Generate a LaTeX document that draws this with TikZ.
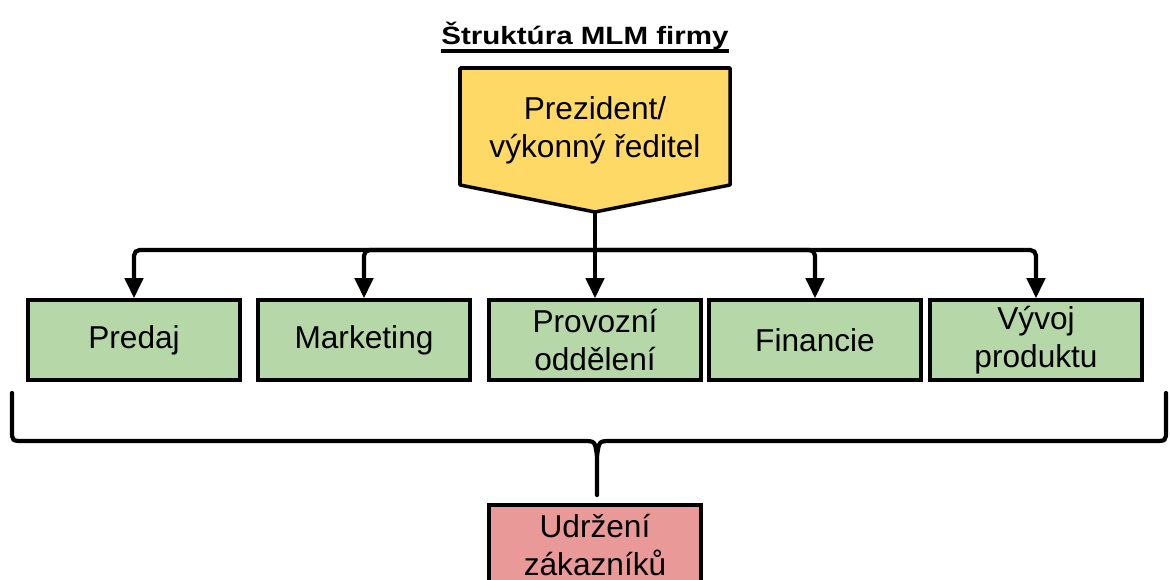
\documentclass[tikz,border=0pt]{standalone}
\usepackage{fontspec}
\setmainfont{Liberation Sans}
\usepackage{graphicx}
\usetikzlibrary{arrows.meta}
\definecolor{presyellow}{HTML}{FFD966}
\definecolor{deptgreen}{HTML}{B6D7A8}
\definecolor{keepred}{HTML}{EA9999}
\tikzset{
  dept/.style={draw, line width=2.5pt, fill=deptgreen, minimum width=5.3cm, minimum height=2cm,
    inner sep=1pt, align=center, font=\fontsize{22.5}{27}\selectfont},
  link/.style={line width=3pt, -{Triangle[width=0.45cm,length=0.5cm]}},
  bus/.style={line width=3pt},
}
\begin{document}
\begin{tikzpicture}[x=0.025cm,y=-0.025cm]
\clip (0,0) rectangle (1170,579);
% title
\node[inner sep=0, anchor=base, font=\bfseries\fontsize{17.8}{20}\selectfont] (title) at (585,44) {\scalebox{1.18}[1]{Štruktúra MLM firmy}};
\draw[line width=3pt] ([yshift=-5pt]title.base west) -- ([yshift=-5pt]title.base east);
% president
\filldraw[line width=2.5pt, fill=presyellow, line join=round] (460,68) -- (730,68) -- (730,185) -- (595,212) -- (460,185) -- cycle;
\node[align=center, font=\fontsize{22.5}{27}\selectfont] (pres) at (595,130) {Prezident/\\výkonný ředitel};
\coordinate (prestip) at (595,212);
% departments
\node[dept] (predaj) at (134,340) {Predaj};
\node[dept] (mark) at (364,340) {Marketing};
\node[dept] (prov) at (595,340) {Provozní\\oddělení};
\node[dept] (fin) at (815,340) {Financie};
\node[dept] (vyvoj) at (1036,340) {Vývoj\\produktu};
\coordinate (split) at (595,250);
\draw[link] (prestip) -- (prov);
\foreach \d in {predaj,mark,fin,vyvoj}
  \draw[link, rounded corners=4pt] (split) -| (\d);
% brace
\coordinate (bracetip) at (597,495);
\draw[bus, line cap=round] (12,393) -- (12,430) .. controls (12,441) .. (24,441) -- (583,441)
  .. controls (595,441) .. (597,456) -- (bracetip);
\draw[bus, line cap=round] (1166,393) -- (1166,430) .. controls (1166,441) .. (1154,441) -- (611,441)
  .. controls (599,441) .. (597,456);
% retention
\node[dept, fill=keepred] (keep) at (595,545) {Udržení\\zákazníků};
\end{tikzpicture}
\end{document}
